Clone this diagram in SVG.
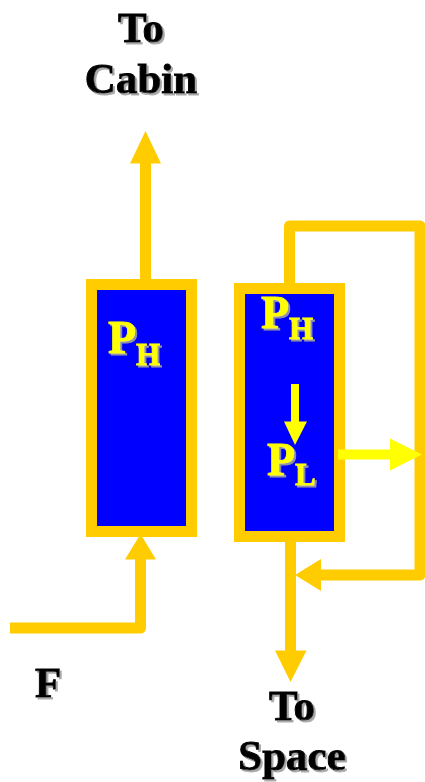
<svg xmlns="http://www.w3.org/2000/svg" width="425" height="782" viewBox="0 0 425 782">
<style>
.lbl{font-family:"Liberation Serif","Times New Roman",serif;font-weight:bold;fill:#000;stroke:#000;stroke-width:0.9;filter:url(#sh)}
.p{font-family:"Liberation Serif","Times New Roman",serif;font-weight:bold;fill:#FFFF00;stroke:#FFFF00;stroke-width:0.8;filter:url(#sh)}
.pipe{fill:none;stroke:#FFCC00;stroke-width:11;stroke-linejoin:round}
.head{fill:#FFCC00}
.box{fill:#0000FF;stroke:#FFCC00;stroke-width:11}
</style>
<defs>
<filter id="sh" x="-20%" y="-20%" width="150%" height="150%">
<feDropShadow dx="2" dy="2" stdDeviation="0.7" flood-color="#A0A0A0" flood-opacity="0.9"/>
</filter>
</defs>
<g id="connectors">
<path class="pipe" d="M145.5 279 V160"/>
<polygon class="head" points="145.5,131 130,163.5 161,163.5"/>
<path class="pipe" d="M10 628 H140.5 V556"/>
<polygon class="head" points="140.5,534 125,559.5 156,559.5"/>
<path class="pipe" d="M289.5 284 V226 H420 V575 H318"/>
<polygon class="head" points="295,575 321,559 321,591"/>
<path class="pipe" d="M290.5 542 V653"/>
<polygon class="head" points="290.5,682 275,650.5 306.5,650.5"/>
</g>
<g id="box-left">
<rect class="box" x="91.5" y="284.5" width="100" height="247"/>
<text class="p" x="108" y="353" font-size="46">P<tspan font-size="31" dy="12">H</tspan></text>
</g>
<g id="box-right">
<rect class="box" x="239.5" y="288.5" width="100" height="248"/>
<text class="p" x="261" y="328" font-size="46">P<tspan font-size="31" dy="11">H</tspan></text>
<text class="p" x="267" y="475" font-size="46">P<tspan font-size="31" dy="10">L</tspan></text>
</g>
<g id="flow-arrows">
<path d="M295 384 V424" stroke="#FFFF00" stroke-width="8" fill="none"/>
<polygon points="295,445 284,421.5 307,421.5" fill="#FFFF00"/>
<path d="M338 454.5 H393" stroke="#FFFF00" stroke-width="10" fill="none"/>
<polygon points="422,454.5 390,438.5 390,470.5" fill="#FFFF00"/>
</g>
<g id="label-cabin">
<text class="lbl" x="141" y="42" font-size="43" text-anchor="middle">To</text>
<text class="lbl" x="141" y="93" font-size="43" text-anchor="middle">Cabin</text>
</g>
<g id="label-f">
<text class="lbl" x="35" y="697" font-size="43">F</text>
</g>
<g id="label-space">
<text class="lbl" x="292" y="720" font-size="43" text-anchor="middle">To</text>
<text class="lbl" x="292" y="770" font-size="43" text-anchor="middle">Space</text>
</g>
</svg>
